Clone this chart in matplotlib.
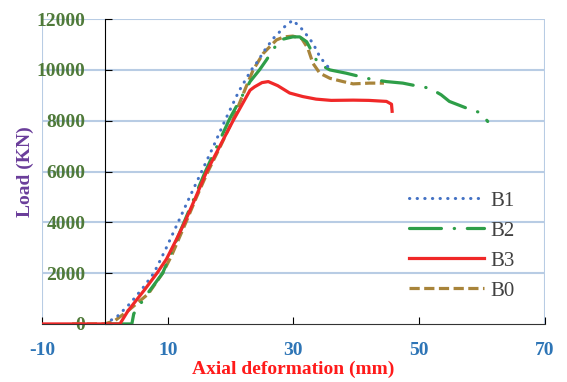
import matplotlib.pyplot as plt

plt.rcParams['axes.unicode_minus'] = False

# Load-deformation curves
b1_x = [0, 2.0, 4.0, 6.0, 7.8, 9.6, 11.65, 13.5, 15.4, 17.2, 19.1, 21.3, 23.3, 24.1, 25.5,
        26.8, 28.6, 29.9, 31.5, 33.1, 34.2, 35.2, 35.6]
b1_y = [0, 300, 800, 1400, 2000, 2900, 4000, 5000, 6000, 6950, 8000, 9150, 10000, 10260, 10800,
        11240, 11700, 11960, 11570, 11050, 10520, 10200, 10100]

b2_x = [1.0, 4.3, 4.6, 6.8, 9.2, 12.6, 15.9, 19.9, 23.1, 24.6, 25.7, 27.8, 29.9, 31.0, 32.1,
        33.1, 33.9, 35.8, 38.4, 42.4, 44.8, 47.4, 49.6, 51.7, 53.5, 54.8, 57.5, 59.9, 60.9]
b2_y = [0, 0, 400, 1200, 2000, 4000, 5950, 8100, 9540, 10000, 10390, 11180, 11300, 11300, 11110,
        10650, 10260, 10000, 9870, 9630, 9540, 9480, 9370, 9280, 9020, 8760, 8500, 8300, 7970]

b3_x = [-10, 2.4, 3.7, 6.4, 8.3, 9.8, 11.4, 12.7, 14.3, 16.2, 18.3, 20.4, 23.1, 23.8, 25.0,
        26.0, 27.5, 29.4, 31.5, 33.6, 36.0, 39.5, 42.0, 44.8, 45.6, 45.7]
b3_y = [0, 0, 520, 1370, 2000, 2550, 3330, 4000, 4900, 6000, 7000, 8000, 9200, 9330, 9500,
        9540, 9380, 9090, 8950, 8850, 8800, 8810, 8800, 8760, 8650, 8370]

b0_x = [-5.2, 0, 1.6, 3.7, 6.9, 9.2, 10.6, 12.9, 14.6, 16.4, 18.4, 20.3, 22.5, 23.6, 25.2,
        27.3, 28.5, 29.9, 31.3, 32.3, 33.1, 34.2, 35.8, 37.9, 39.5, 42.1, 44.4]
b0_y = [0, 0, 130, 520, 1180, 2000, 2680, 4000, 5000, 6000, 7000, 8000, 9350, 10000, 10650,
        11180, 11300, 11330, 11240, 10850, 10260, 9870, 9670, 9540, 9450, 9480, 9480]

x_ticks = [-10, 10, 30, 50, 70]
y_ticks = [0, 2000, 4000, 6000, 8000, 10000, 12000]

grid_c = '#b8cce4'
serif = 'Liberation Serif'

fig, ax = plt.subplots(figsize=(5.67, 3.82), dpi=100)
fig.subplots_adjust(left=0.074, right=0.961, top=0.950, bottom=0.152)

# light blue grid and frame
for yv in y_ticks[1:]:
    ax.axhline(yv, color=grid_c, lw=1.5, zorder=1)
ax.axvline(-10, color=grid_c, lw=1.5, zorder=1)
ax.axvline(70, color=grid_c, lw=1.5, zorder=1)

l0, = ax.plot(b0_x, b0_y, color='#a8843a', lw=2.3, dashes=(3.2, 1.4), zorder=2.0, label='B0')
l2, = ax.plot(b2_x, b2_y, color='#2e9e48', lw=2.3, dashes=(10, 4, 0.1, 4),
              dash_capstyle='round', zorder=2.1, label='B2')
l1, = ax.plot(b1_x, b1_y, color='#4472c4', lw=2.2, dashes=(0.1, 2.4),
              dash_capstyle='round', zorder=2.2, label='B1')
l3, = ax.plot(b3_x, b3_y, color='#f02828', lw=2.3, zorder=2.3, label='B3')

ax.set_xlim(-10, 70)
ax.set_ylim(0, 12000)

ax.spines['top'].set_visible(False)
ax.spines['right'].set_visible(False)
ax.spines['left'].set_position(('data', 0))
ax.spines['left'].set_color('black')
ax.spines['bottom'].set_color('#333333')

ax.set_xticks(x_ticks)
ax.set_yticks(y_ticks)
ax.tick_params(axis='x', direction='in', length=5, pad=13, labelcolor='#2e75b6',
               labelsize=14)
ax.tick_params(axis='y', direction='in', length=5, pad=14, labelcolor='#4f7a3a',
               labelsize=14)
for lab in ax.get_xticklabels() + ax.get_yticklabels():
    lab.set_fontfamily(serif)
    lab.set_fontweight('bold')

ax.set_xlabel('Axial deformation (mm)', color='#ff1a1a', fontsize=14, fontweight='bold',
              fontfamily=serif, labelpad=1)
ax.set_ylabel('Load (KN)', color='#6a3d9a', fontsize=14, fontweight='bold',
              fontfamily=serif, labelpad=2)

leg = ax.legend(handles=[l1, l2, l3, l0], loc='upper left', bbox_to_anchor=(0.692, 0.497),
                frameon=False, handlelength=3.6, handletextpad=0.3, labelspacing=0.5,
                prop={'family': serif, 'size': 15})
for t in leg.get_texts():
    t.set_color('#404040')

plt.savefig('out.png')
